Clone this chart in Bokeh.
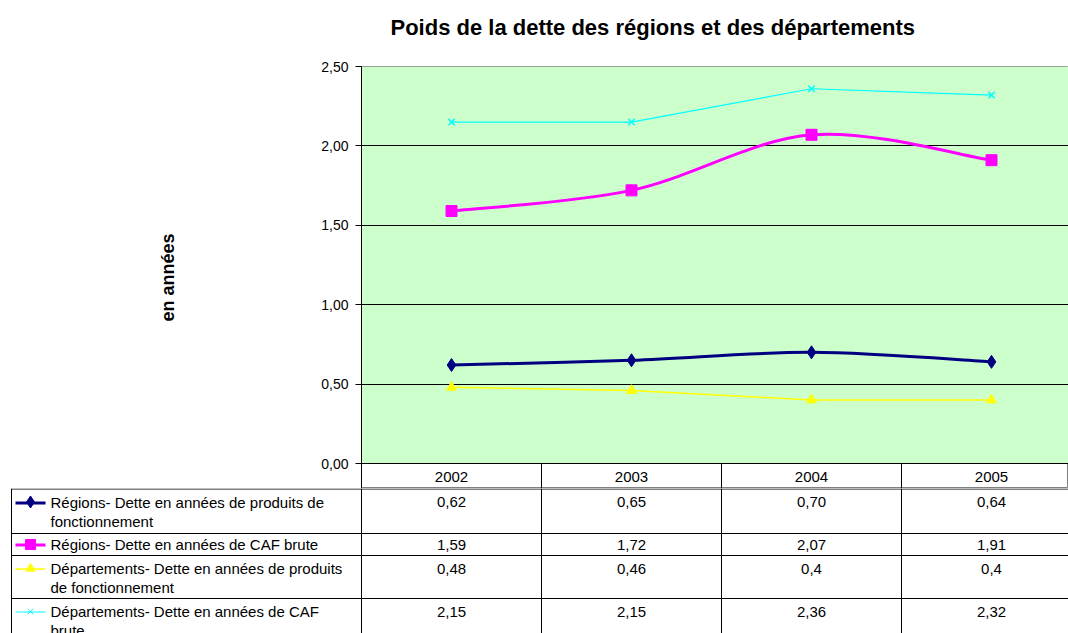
from bokeh.plotting import figure
from bokeh.layouts import column
from bokeh.models import Range1d, FixedTicker, CustomJSTickFormatter, Title
from bokeh.core.properties import value
from bokeh.embed import file_html
from bokeh.resources import INLINE

# ---------------- data ----------------
title_text = "Poids de la dette des régions et des départements"
years = ["2002", "2003", "2004", "2005"]
series_names = [
    "Régions- Dette en années de produits de\nfonctionnement",
    "Régions- Dette en années de CAF brute",
    "Départements- Dette en années de produits\nde fonctionnement",
    "Départements- Dette en années de CAF\nbrute",
]
regions_produits = [0.62, 0.65, 0.70, 0.64]
regions_caf = [1.59, 1.72, 2.07, 1.91]
depts_produits = [0.48, 0.46, 0.40, 0.40]
depts_caf = [2.15, 2.15, 2.36, 2.32]
y_ticks = [0.0, 0.5, 1.0, 1.5, 2.0, 2.5]

# ---------------- styles / layout ----------------
FONT = "Liberation Sans"
series = [
    dict(y=regions_produits, color="#000080", width=3, marker="diamond", size=13, smooth=True, fmt="{:.2f}"),
    dict(y=regions_caf, color="#FF00FF", width=3, marker="square", size=11, smooth=True, fmt="{:.2f}"),
    dict(y=depts_produits, color="#FFFF00", width=1.5, marker="triangle", size=10, smooth=False, fmt="{:g}"),
    dict(y=depts_caf, color="#00FFFF", width=1.2, marker="x", size=9, smooth=False, fmt="{:g}"),
]

W = 1068
FRAME_LEFT = 361      # page x of plot area left
FRAME_TOP = 66        # page y of 2,50
ZERO_Y = 463          # page y of 0,00
HEADER_BOTTOM = 488   # page y of bottom of year header row
PAGE_H = 633
PX_PER_CAT = 180.0
CAT0_PAGE_X = 451.0
Y_MAX = 2.5
PX_PER_UNIT = (ZERO_Y - FRAME_TOP) / Y_MAX


def ux(page_x):
    """page pixel x -> category units"""
    return (page_x - CAT0_PAGE_X) / PX_PER_CAT


def uy(page_y):
    """page pixel y -> value units of the chart"""
    return (ZERO_Y - page_y) / PX_PER_UNIT


xs = list(range(len(years)))

# ---------------- chart figure (plot area + year header row) ----------------
pA = figure(width=W, height=HEADER_BOTTOM, output_backend="svg", toolbar_location=None,
            x_range=Range1d(ux(FRAME_LEFT), ux(W)), y_range=Range1d(uy(HEADER_BOTTOM), Y_MAX),
            x_axis_location=None, min_border_left=FRAME_LEFT, min_border_right=0,
            min_border_top=FRAME_TOP, min_border_bottom=0)
pA.frame_align = False
pA.background_fill_color = "white"
pA.border_fill_color = "white"
pA.outline_line_color = "#808080"
pA.xgrid.visible = False
pA.ygrid.grid_line_color = "black"
pA.ygrid.grid_line_width = 1
pA.ygrid.ticker = FixedTicker(ticks=y_ticks[:-1])

# green plot area
pA.quad(left=[ux(FRAME_LEFT)], right=[ux(W + 20)], bottom=[0], top=[Y_MAX],
        fill_color="#CCFFCC", line_color=None, level="underlay")

# real title, with a blank spacer title between it and the plot area
pA.title.text = title_text
pA.title.text_font = FONT
pA.title.text_font_size = "22px"
pA.title.text_font_style = "bold"
pA.title.text_color = "black"
pA.title.align = "left"
pA.title.offset = 29
pA.title.standoff = 0
pA.add_layout(Title(text=" ", text_font=FONT, text_font_size="22px", standoff=0), "above")

ya = pA.yaxis[0]
ya.ticker = FixedTicker(ticks=y_ticks)
ya.formatter = CustomJSTickFormatter(code="return tick.toFixed(2).replace('.', ',');")
ya.major_label_text_font = FONT
ya.major_label_text_font_size = "14px"
ya.major_label_text_color = "black"
ya.major_tick_out = 6
ya.major_tick_in = 0
ya.minor_tick_out = 0
ya.minor_tick_in = 0
ya.axis_line_color = "black"
ya.major_tick_line_color = "black"
ya.major_label_standoff = 7
ya.axis_label = "en années"
ya.axis_label_text_font = FONT
ya.axis_label_text_font_size = "18px"
ya.axis_label_text_font_style = "bold"
ya.axis_label_text_color = "black"
ya.axis_label_standoff = 140

# column separators of the header row
col_edges = [i - 0.5 for i in range(len(years) + 1)]
pA.segment(x0=col_edges[1:], y0=[0] * (len(col_edges) - 1), x1=col_edges[1:],
           y1=[uy(HEADER_BOTTOM + 5)] * (len(col_edges) - 1), line_color="black", line_width=1)
pA.segment(x0=[ux(FRAME_LEFT)], y0=[0], x1=[ux(W + 20)], y1=[0], line_color="black", line_width=1)
pA.text(x=xs, y=[uy(ZERO_Y + 13)] * len(xs), text=years, text_font=value(FONT), text_font_size="15px",
        text_align="center", text_baseline="middle", text_color="black")


def bezier_segments(x, y):
    n = len(x)
    P = list(zip(x, y))
    segs = dict(x0=[], y0=[], x1=[], y1=[], cx0=[], cy0=[], cx1=[], cy1=[])
    for i in range(n - 1):
        pm = P[i - 1] if i > 0 else P[i]
        p0, p1 = P[i], P[i + 1]
        pp = P[i + 2] if i + 2 < n else P[i + 1]
        segs["x0"].append(p0[0]); segs["y0"].append(p0[1])
        segs["x1"].append(p1[0]); segs["y1"].append(p1[1])
        segs["cx0"].append(p0[0] + (p1[0] - pm[0]) / 6.0)
        segs["cy0"].append(p0[1] + (p1[1] - pm[1]) / 6.0)
        segs["cx1"].append(p1[0] - (pp[0] - p0[0]) / 6.0)
        segs["cy1"].append(p1[1] - (pp[1] - p0[1]) / 6.0)
    return segs


for s in series:
    if s["smooth"]:
        b = bezier_segments(xs, s["y"])
        pA.bezier(x0=b["x0"], y0=b["y0"], x1=b["x1"], y1=b["y1"],
                  cx0=b["cx0"], cy0=b["cy0"], cx1=b["cx1"], cy1=b["cy1"],
                  line_color=s["color"], line_width=s["width"])
    else:
        pA.line(xs, s["y"], line_color=s["color"], line_width=s["width"])
    pA.scatter(xs, s["y"], marker=s["marker"], size=s["size"],
               fill_color=s["color"], line_color=s["color"],
               line_width=1.5 if s["marker"] == "x" else 1)

# ---------------- data table rows figure ----------------
HB = PAGE_H - HEADER_BOTTOM
pB = figure(width=W, height=HB, output_backend="svg", toolbar_location=None,
            x_range=Range1d(ux(0), ux(W)), y_range=Range1d(HB, 0),
            x_axis_location=None, y_axis_location=None,
            min_border=0, min_border_left=0, min_border_right=0,
            min_border_top=0, min_border_bottom=0)
pB.frame_align = False
pB.outline_line_color = None
pB.grid.visible = False
pB.background_fill_color = "white"
pB.border_fill_color = "white"

row_tops = [0.5, 45, 67, 110]
row_heights = [45, 22, 43, 45]
x_left = ux(11)
x_right = ux(W + 20)

pB.segment(x0=[x_left] * len(row_tops), y0=row_tops, x1=[x_right] * len(row_tops), y1=row_tops,
           line_color="black", line_width=1)
pB.segment(x0=[x_left], y0=[0], x1=[x_left], y1=[HB + 5], line_color="black", line_width=1)
pB.segment(x0=col_edges, y0=[0] * len(col_edges), x1=col_edges, y1=[HB + 5] * len(col_edges),
           line_color="black", line_width=1)

tf = value(FONT)
for r, s in enumerate(series):
    top = row_tops[r]
    vy = top + min(13, row_heights[r] / 2.0)
    labels = [s["fmt"].format(v).replace(".", ",") for v in s["y"]]
    pB.text(x=xs, y=[vy] * len(xs), text=labels, text_font=tf, text_font_size="15px",
            text_align="center", text_baseline="middle", text_color="black")
    lines = series_names[r].split("\n")
    pB.text(x=[ux(50)] * len(lines), y=[vy + 19 * k for k in range(len(lines))], text=lines,
            text_font=tf, text_font_size="15px", text_align="left", text_baseline="middle",
            text_color="black")
    pB.line([ux(15), ux(45)], [round(vy) + 0.5] * 2, line_color=s["color"], line_width=s["width"])
    pB.scatter([ux(30)], [vy], marker=s["marker"], size=s["size"] - 1,
               fill_color=s["color"], line_color=s["color"])

layout = column(pA, pB, spacing=0)
open("out.html", "w").write(file_html(layout, INLINE))
